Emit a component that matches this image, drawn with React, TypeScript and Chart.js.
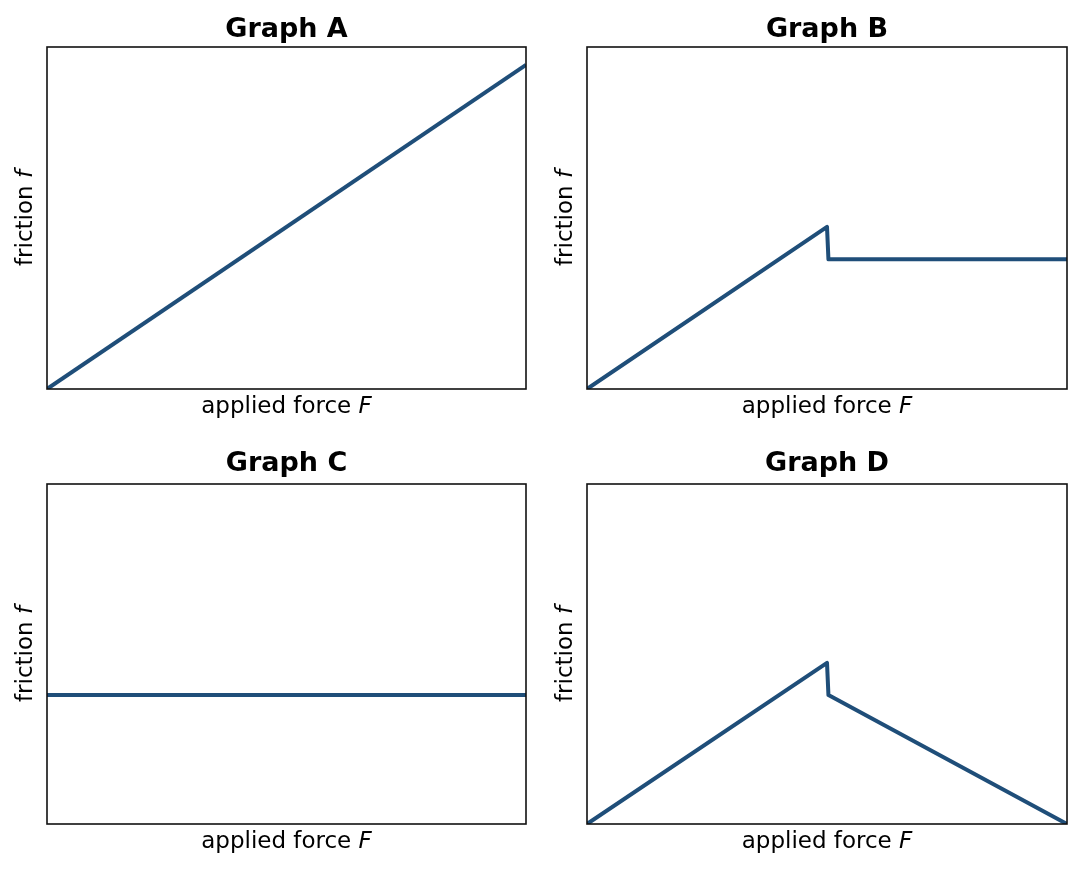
import React, { useEffect, useRef } from "react";
import { Chart, registerables } from "chart.js";

Chart.register(...registerables);

const FONT = "'DejaVu Sans', sans-serif";
const LINE_COLOR = "#1f4e79";

const titles = ["Graph A", "Graph B", "Graph C", "Graph D"];
const xLabelMain = "applied force ";
const xLabelVar = "F";
const yLabelMain = "friction ";
const yLabelVar = "f";

const forceA = [0, 1];
const frictionA = [0, 1];
const forceB = [0, 0.5, 0.503, 1];
const frictionB = [0, 0.5, 0.4, 0.4];
const forceC = [0, 1];
const frictionC = [0.4, 0.4];
const forceD = [0, 0.5, 0.503, 1];
const frictionD = [0, 0.5, 0.4, 0];

const X_MAX = 1;
const Y_MAX = 1.055;

const seriesX = [forceA, forceB, forceC, forceD];
const seriesY = [frictionA, frictionB, frictionC, frictionD];

const labelSize = 23;
const titleSize = 27;

const framePlugin = {
  id: "frameAndLabels",
  afterDatasetsDraw(chart: any) {
    const { ctx, chartArea } = chart;
    const { left, right, top, bottom } = chartArea;
    ctx.save();
    ctx.strokeStyle = "#111";
    ctx.lineWidth = 1.6;
    ctx.strokeRect(left, top, right - left, bottom - top);
    ctx.restore();
  },
  afterDraw(chart: any) {
    const { ctx, chartArea } = chart;
    const { left, right, top, bottom } = chartArea;
    ctx.save();
    ctx.fillStyle = "#000";
    ctx.textBaseline = "alphabetic";
    ctx.textAlign = "left";
    const reg = `${labelSize}px ${FONT}`;
    const ital = `italic ${labelSize}px ${FONT}`;
    // x label
    ctx.font = reg;
    const w1 = ctx.measureText(xLabelMain).width;
    ctx.font = ital;
    const w2 = ctx.measureText(xLabelVar).width;
    const cx = (left + right) / 2;
    const xs = cx - (w1 + w2) / 2;
    const by = bottom + 24;
    ctx.font = reg;
    ctx.fillText(xLabelMain, xs, by);
    ctx.font = ital;
    ctx.fillText(xLabelVar, xs + w1, by);
    // y label
    ctx.font = reg;
    const v1 = ctx.measureText(yLabelMain).width;
    ctx.font = ital;
    const v2 = ctx.measureText(yLabelVar).width;
    const cy = (top + bottom) / 2;
    ctx.translate(left - 15, cy);
    ctx.rotate(-Math.PI / 2);
    const ys = -(v1 + v2) / 2;
    ctx.font = reg;
    ctx.fillText(yLabelMain, ys, 0);
    ctx.font = ital;
    ctx.fillText(yLabelVar, ys + v1, 0);
    ctx.restore();
  },
};

type PanelProps = {
  idx: number;
  left: number;
  top: number;
  width: number;
  height: number;
  pad: { left: number; right: number; bottom: number };
  titlePad: { top: number; bottom: number };
};

function Panel({ idx, left, top, width, height, pad, titlePad }: PanelProps) {
  const ref = useRef<HTMLCanvasElement | null>(null);
  useEffect(() => {
    if (!ref.current) return;
    const xs = seriesX[idx];
    const ys = seriesY[idx];
    const chart = new Chart(ref.current, {
      type: "line",
      data: {
        datasets: [
          {
            data: xs.map((x, i) => ({ x, y: ys[i] })),
            borderColor: LINE_COLOR,
            borderWidth: 4,
            pointRadius: 0,
            fill: false,
            tension: 0,
            borderJoinStyle: "round",
            borderCapStyle: "butt",
            clip: 0,
          } as any,
        ],
      },
      options: {
        responsive: false,
        animation: false,
        events: [],
        layout: { padding: { left: pad.left, right: pad.right, top: 0, bottom: pad.bottom } },
        scales: {
          x: { type: "linear", min: 0, max: X_MAX, display: false },
          y: { type: "linear", min: 0, max: Y_MAX, display: false },
        },
        plugins: {
          legend: { display: false },
          tooltip: { enabled: false },
          title: {
            display: true,
            text: titles[idx],
            color: "#000",
            font: { family: FONT, size: titleSize, weight: "bold" },
            padding: { top: titlePad.top, bottom: titlePad.bottom },
          },
        },
      } as any,
      plugins: [framePlugin],
    });
    return () => chart.destroy();
  }, [idx]);
  return (
    <canvas
      ref={ref}
      width={width}
      height={height}
      style={{ position: "absolute", left, top, width, height }}
    />
  );
}

export default function App() {
  return (
    <div style={{ position: "absolute", left: 0, top: 0, width: 1081, height: 871, background: "#fff" }}>
      <Panel idx={0} left={0} top={0} width={540} height={435}
        pad={{ left: 47, right: 14, bottom: 46 }} titlePad={{ top: 13.4, bottom: 1.2 }} />
      <Panel idx={1} left={540} top={0} width={541} height={435}
        pad={{ left: 47, right: 14, bottom: 46 }} titlePad={{ top: 13.4, bottom: 1.2 }} />
      <Panel idx={2} left={0} top={435} width={540} height={436}
        pad={{ left: 47, right: 14, bottom: 47 }} titlePad={{ top: 12.4, bottom: 4.2 }} />
      <Panel idx={3} left={540} top={435} width={541} height={436}
        pad={{ left: 47, right: 14, bottom: 47 }} titlePad={{ top: 12.4, bottom: 4.2 }} />
    </div>
  );
}
